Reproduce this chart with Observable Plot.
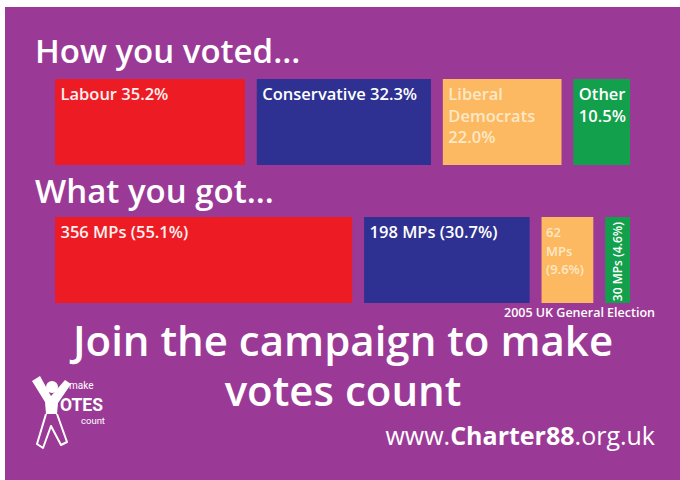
<!DOCTYPE html>
<html><head><meta charset="utf-8">
<script src="https://cdn.jsdelivr.net/npm/d3@7"></script>
<script src="https://cdn.jsdelivr.net/npm/@observablehq/plot@0.6"></script>
<style>
html,body{margin:0;padding:0;background:#fff;}
#page{position:relative;width:680px;height:480px;overflow:hidden;font-family:"Open Sans",sans-serif;}
#bg{position:absolute;left:5px;top:7px;width:675px;height:473px;background:#9b3a96;}
.t{position:absolute;color:#fff;white-space:nowrap;line-height:1;}
#chart{position:absolute;left:0;top:78px;}
#logo{position:absolute;left:20px;top:368px;}
</style></head><body>
<div id="page">
  <div id="bg"></div>
  <div class="t" style="left:35px;top:34px;font-size:33px;font-weight:600;">How you voted...</div>
  <div class="t" style="left:35px;top:174px;font-size:33px;font-weight:600;">What you got...</div>
  <div class="t" style="left:343px;top:319px;font-size:42px;font-weight:600;transform:translateX(-50%);">Join the campaign to make</div>
  <div class="t" style="left:343px;top:369px;font-size:42px;font-weight:600;transform:translateX(-50%);">votes count</div>
  <div class="t" style="right:25px;top:423px;font-size:25px;">www.<b style="font-weight:700">Charter88</b>.org.uk</div>
  <div class="t" style="right:25px;top:307px;font-size:12.5px;font-weight:600;">2005 UK General Election</div>
  <div id="chart"></div>
  <svg id="logo" width="110" height="86" viewBox="0 0 110 86">
    <circle cx="32" cy="19" r="6" fill="#fff"/>
    <path d="M12,13 L20,8 L31,28 L45,12 L51,16 L38,35 L37,46 L26,46 L25,34 Z" fill="#fff"/>
    <path d="M26,46 L17,76 L23,80 L31,58 L41,77 L47,74 L37,46" fill="none" stroke="#fff" stroke-width="2" stroke-linejoin="round"/>
    <text x="49" y="21" fill="#fff" font-family="Roboto" font-size="10">make</text>
    <text x="40" y="43" fill="#fff" font-family="Roboto" font-weight="700" font-size="18" textLength="43" lengthAdjust="spacingAndGlyphs">OTES</text>
    <text x="61" y="56" fill="#fff" font-family="Roboto" font-size="9.5">count</text>
  </svg>
</div>
<script>
const parties = ["Labour", "Conservative", "Liberal Democrats", "Other"];
const partyColors = ["#ed1c24", "#2e3192", "#fcb961", "#13a04c"];
const labelColors = ["#fff0f0", "#ffffff", "#fde8c6", "#ffffff"];
const votePct = [35.2, 32.3, 22.0, 10.5];
const seatPct = [55.1, 30.7, 9.6, 4.6];
const seatCount = [356, 198, 62, 30];
const voteLabels = ["Labour 35.2%", "Conservative 32.3%", "Liberal\nDemocrats\n22.0%", "Other\n10.5%"];
const seatLabels = ["356 MPs (55.1%)", "198 MPs (30.7%)", "62\nMPs\n(9.6%)", "30 MPs (4.6%)"];
const rowKeys = ["How you voted", "What you got"];

const GAP = 2.2;
const table = [];
rowKeys.forEach((row, ri) => {
  const vals = ri === 0 ? votePct : seatPct;
  const labs = ri === 0 ? voteLabels : seatLabels;
  let cum = 0;
  vals.forEach((v, i) => {
    table.push({
      row, party: parties[i], value: v,
      x1: cum + i * GAP, x2: cum + v + i * GAP,
      fill: partyColors[i], labelFill: labelColors[i], label: labs[i],
      small: ri === 1 && i >= 2, rotated: ri === 1 && i === 3
    });
    cum += v;
  });
});

const H = 226, P = 0.374;
const step = H / (rowKeys.length - P);
const bw = step * (1 - P);

const chart = Plot.plot({
  width: 680, height: H,
  marginLeft: 55, marginRight: 50, marginTop: 0, marginBottom: 0,
  style: {background: "transparent", fontFamily: "Open Sans", overflow: "visible"},
  x: {domain: [0, 100 + 3 * GAP], axis: null},
  y: {domain: rowKeys, axis: null, paddingInner: P, paddingOuter: 0},
  color: {type: "identity"},
  marks: [
    Plot.barX(table, {x1: "x1", x2: "x2", y: "row", fill: "fill"}),
    Plot.text(table.filter(d => !d.small), {
      x: "x1", y: "row", text: "label", fill: "labelFill",
      dx: 5, dy: -bw / 2 + 6, textAnchor: "start", lineAnchor: "top",
      fontSize: 16.5, fontWeight: 600, lineHeight: 1.3
    }),
    Plot.text(table.filter(d => d.small && !d.rotated), {
      x: "x1", y: "row", text: "label", fill: "labelFill",
      dx: 4, dy: -bw / 2 + 7, textAnchor: "start", lineAnchor: "top",
      fontSize: 13, fontWeight: 600, lineHeight: 1.42
    }),
    Plot.text(table.filter(d => d.rotated), {
      x: d => (d.x1 + d.x2) / 2, y: "row", text: "label", fill: "labelFill",
      dy: -bw / 2 + 5, rotate: -90, textAnchor: "end", lineAnchor: "middle",
      fontSize: 12, fontWeight: 600
    })
  ]
});
document.getElementById("chart").appendChild(chart);
</script>
</body></html>
